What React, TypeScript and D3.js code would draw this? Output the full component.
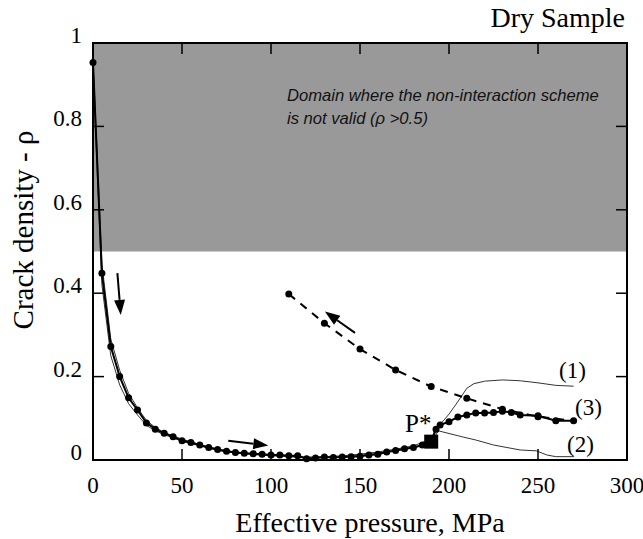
import * as d3 from "d3";

// loading curve (3), measured points
const loadP = [0, 5, 10, 15, 20, 25, 30, 35, 40, 45, 50, 55, 60, 65, 70, 75, 80, 85, 90, 95, 100, 105, 110, 115, 120, 125, 130, 135, 140, 145, 150, 155, 160, 165, 170, 175, 180, 185, 190, 192.7, 195, 200, 205, 210, 215, 220, 225, 230, 235, 240, 250, 260, 270];
const loadRho = [0.953, 0.448, 0.272, 0.2, 0.149, 0.12, 0.089, 0.074, 0.064, 0.056, 0.046, 0.042, 0.036, 0.03, 0.025, 0.021, 0.018, 0.016, 0.015, 0.014, 0.012, 0.012, 0.01, 0.01, 0.003, 0.005, 0.007, 0.006, 0.007, 0.008, 0.009, 0.012, 0.014, 0.019, 0.023, 0.027, 0.03, 0.036, 0.044, 0.074, 0.084, 0.092, 0.103, 0.108, 0.113, 0.113, 0.114, 0.117, 0.114, 0.108, 0.106, 0.094, 0.094];

// unloading (dashed)
const unloadP = [110, 130, 150, 170, 190, 210, 230, 250, 270];
const unloadRho = [0.398, 0.328, 0.266, 0.216, 0.176, 0.148, 0.122, 0.104, 0.094];

// model curves (1) and (2)
const model1P = [0, 5, 10, 15, 20, 25, 30, 35, 40, 50, 60, 70, 80, 90, 100, 110, 120, 130, 140, 150, 160, 170, 180, 190, 193, 197, 200, 205, 210, 214, 220, 230, 240, 250, 260, 270];
const model1Rho = [0.96, 0.47, 0.29, 0.215, 0.16, 0.125, 0.095, 0.078, 0.066, 0.05, 0.037, 0.026, 0.019, 0.015, 0.012, 0.009, 0.007, 0.008, 0.01, 0.014, 0.019, 0.026, 0.034, 0.05, 0.08, 0.095, 0.11, 0.14, 0.172, 0.183, 0.189, 0.192, 0.19, 0.185, 0.179, 0.177];
const model2P = [0, 5, 10, 15, 20, 25, 30, 35, 40, 50, 60, 70, 80, 90, 100, 110, 120, 130, 140, 150, 160, 170, 180, 190, 194, 208, 215, 225, 240, 249, 255, 260, 270];
const model2Rho = [0.94, 0.42, 0.25, 0.18, 0.135, 0.108, 0.083, 0.07, 0.061, 0.045, 0.034, 0.023, 0.017, 0.013, 0.01, 0.008, 0.005, 0.006, 0.008, 0.011, 0.016, 0.022, 0.029, 0.042, 0.07, 0.055, 0.048, 0.036, 0.024, 0.022, 0.012, 0.008, 0.008];

const pStar = { p: 190, rho: 0.044 };
const xTicks = [0, 50, 100, 150, 200, 250, 300];
const yTicks = [0, 0.2, 0.4, 0.6, 0.8, 1];

const serif = "'Liberation Serif', 'Times New Roman', serif";
const sans = "'Liberation Sans', Arial, sans-serif";

export default function App() {
  const width = 643;
  const height = 539;
  const x = d3.scaleLinear().domain([0, 300]).range([93, 627]);
  const y = d3.scaleLinear().domain([0, 1]).range([460, 43]);

  const line = d3
    .line<[number, number]>()
    .x((d) => x(d[0]))
    .y((d) => y(d[1]));

  const load = loadP.map((p, i) => [p, loadRho[i]] as [number, number]);
  const unload = unloadP.map((p, i) => [p, unloadRho[i]] as [number, number]);
  const m1 = model1P.map((p, i) => [p, model1Rho[i]] as [number, number]);
  const m2 = model2P.map((p, i) => [p, model2Rho[i]] as [number, number]);

  // arrows, in data units: [tailP, tailRho, tipP, tipRho]
  const arrows = [
    [13.7, 0.448, 15.6, 0.348],
    [76, 0.046, 98.5, 0.035],
    [147.2, 0.305, 130.3, 0.356],
  ];

  const arrow = (a: number[], k: number) => {
    const x1 = x(a[0]), y1 = y(a[1]), x2 = x(a[2]), y2 = y(a[3]);
    const ang = Math.atan2(y2 - y1, x2 - x1);
    const L = 15, W = 5.5;
    const bx = x2 - L * Math.cos(ang), by = y2 - L * Math.sin(ang);
    const px = -Math.sin(ang) * W, py = Math.cos(ang) * W;
    return (
      <g key={k}>
        <line x1={x1} y1={y1} x2={bx} y2={by} stroke="#000" strokeWidth={2} />
        <path d={`M${x2},${y2}L${bx + px},${by + py}L${bx - px},${by - py}Z`} fill="#000" />
      </g>
    );
  };

  const sq = 14;

  return (
    <svg width={width} height={height} style={{ position: "absolute", left: 0, top: 0, background: "#fff" }}>
      {/* invalid domain */}
      <rect x={x(0)} y={y(1)} width={x(300) - x(0) - 1} height={y(0.5) - y(1)} fill="#999999" />
      <text fontFamily={sans} fontStyle="italic" fontSize={16.6} fill="#111">
        <tspan x={x(109)} y={y(0.861)}>Domain where the non-interaction scheme</tspan>
        <tspan x={x(109)} y={y(0.806)}>is not valid (ρ &gt;0.5)</tspan>
      </text>

      {/* model curves */}
      <path d={line(m1) ?? ""} fill="none" stroke="#333" strokeWidth={1} />
      <path d={line(m2) ?? ""} fill="none" stroke="#333" strokeWidth={1} />

      {/* unloading */}
      <path d={line(unload) ?? ""} fill="none" stroke="#000" strokeWidth={2} strokeDasharray="8,7" />
      {unload.slice(0, -1).map((d, i) => (
        <circle key={"u" + i} cx={x(d[0])} cy={y(d[1])} r={3.5} fill="#000" />
      ))}

      {/* loading (3) */}
      <path d={line(load) ?? ""} fill="none" stroke="#000" strokeWidth={2} />
      {load.map((d, i) =>
        d[0] === pStar.p ? null : <circle key={"l" + i} cx={x(d[0])} cy={y(d[1])} r={3.5} fill="#000" />
      )}
      <rect x={x(pStar.p) - sq / 2} y={y(pStar.rho) - sq / 2} width={sq} height={sq} fill="#000" />

      {arrows.map(arrow)}

      {/* frame and ticks */}
      <rect x={x(0)} y={y(1)} width={x(300) - x(0)} height={y(0) - y(1)} fill="none" stroke="#000" strokeWidth={2} />
      {xTicks.slice(1, -1).map((t) => (
        <g key={"xt" + t}>
          <line x1={x(t)} x2={x(t)} y1={y(0)} y2={y(0) - 11} stroke="#000" strokeWidth={1.5} />
          <line x1={x(t)} x2={x(t)} y1={y(1)} y2={y(1) + 11} stroke="#000" strokeWidth={1.5} />
        </g>
      ))}
      {yTicks.slice(1, -1).map((t) => (
        <g key={"yt" + t}>
          <line x1={x(0)} x2={x(0) + 11} y1={y(t)} y2={y(t)} stroke="#000" strokeWidth={1.5} />
          <line x1={x(300)} x2={x(300) - 11} y1={y(t)} y2={y(t)} stroke="#000" strokeWidth={1.5} />
        </g>
      ))}
      {xTicks.map((t) => (
        <text key={"xl" + t} x={x(t)} y={493} textAnchor="middle" fontFamily={serif} fontSize={23}>
          {t}
        </text>
      ))}
      {yTicks.map((t) => (
        <text key={"yl" + t} x={82} y={y(t)} textAnchor="end" fontFamily={serif} fontSize={23}>
          {t}
        </text>
      ))}

      {/* labels */}
      <text x={x(175.3)} y={y(0.067)} fontFamily={serif} fontSize={25}>P*</text>
      <text x={x(261.8)} y={y(0.197)} fontFamily={serif} fontSize={23}>(1)</text>
      <text x={x(270.8)} y={y(0.108)} fontFamily={serif} fontSize={23}>(3)</text>
      <text x={x(266.3)} y={y(0.019)} fontFamily={serif} fontSize={23}>(2)</text>

      <text x={625} y={27} textAnchor="end" fontFamily={serif} fontSize={28}>Dry Sample</text>
      <text x={370} y={532} textAnchor="middle" fontFamily={serif} fontSize={28}>Effective pressure, MPa</text>
      <text transform="translate(33,230) rotate(-90)" textAnchor="middle" fontFamily={serif} fontSize={29}>
        Crack density - ρ
      </text>
    </svg>
  );
}
